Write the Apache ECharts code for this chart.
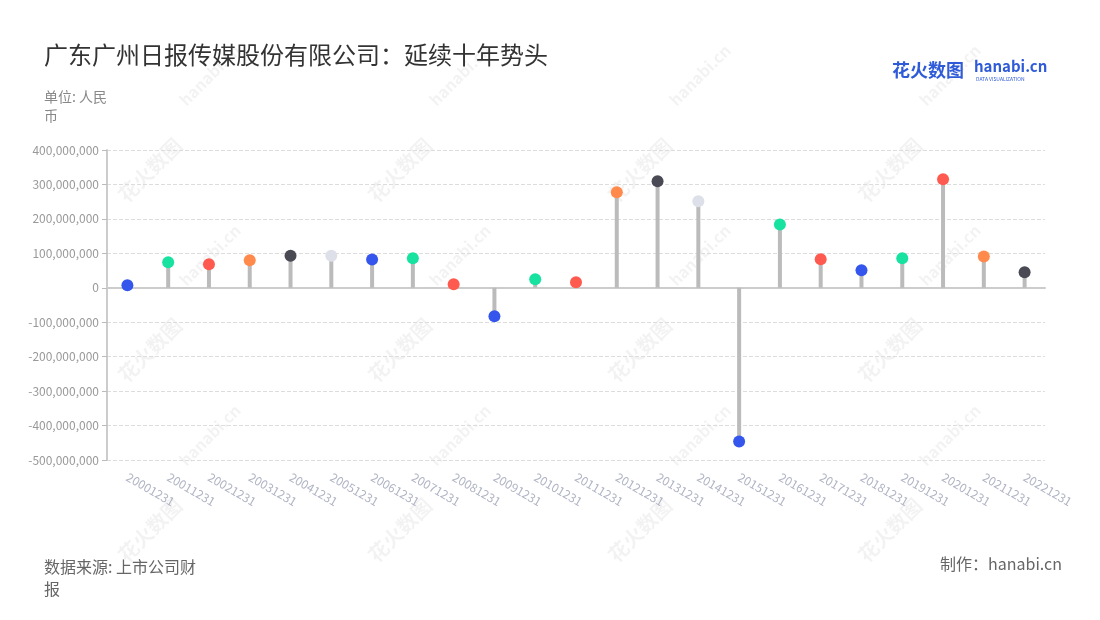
<!DOCTYPE html>
<html><head><meta charset="utf-8">
<script src="https://cdn.jsdelivr.net/npm/echarts@6/dist/echarts.min.js"></script>
<style>html,body{margin:0;padding:0;background:#fff}#c{width:1100px;height:620px}</style>
</head><body><div id="c"></div>
<script>
const categories = ['20001231','20011231','20021231','20031231','20041231','20051231','20061231','20071231','20081231','20091231','20101231','20111231','20121231','20131231','20141231','20151231','20161231','20171231','20181231','20191231','20201231','20211231','20221231'];
const values = [7000000,74000000,68000000,80000000,93000000,93000000,82000000,86000000,10000000,-83000000,25000000,16000000,277000000,309000000,251000000,-446000000,184000000,83000000,51000000,86000000,315000000,91000000,45000000];
const pointColors = ['#3556ec','#17e29f','#ff5a50','#ff8a4c','#4a4a55','#dde0e9','#3556ec','#17e29f','#ff5a50','#3556ec','#17e29f','#ff5a50','#ff8a4c','#4a4a55','#dde0e9','#3556ec','#17e29f','#ff5a50','#3556ec','#17e29f','#ff5a50','#ff8a4c','#4a4a55'];
const titleText = '广东广州日报传媒股份有限公司：延续十年势头';

const font = '"Noto Sans CJK SC","Noto Sans",sans-serif';
const chart = echarts.init(document.getElementById('c'));

const wm = [];
const wmPos = [[150,170],[400,170],[640,170],[890,170],[150,350],[400,350],[640,350],[890,350],[150,530],[400,530],[640,530],[890,530]];
wmPos.forEach(p => {
  wm.push({type:'text', x:p[0], y:p[1], rotation:Math.PI/4, silent:true, z:-1,
    style:{text:'花火数图', fill:'rgba(0,0,0,0.05)', font:'bold 20px ' + font, align:'center', verticalAlign:'middle'}});
  wm.push({type:'text', x:p[0]+60, y:p[1]-95, rotation:Math.PI/4, silent:true, z:-1,
    style:{text:'hanabi.cn', fill:'rgba(0,0,0,0.05)', font:'bold 16px ' + font, align:'center', verticalAlign:'middle'}});
});

chart.setOption({
  backgroundColor:'#fff',
  animation:false,
  title:{text:titleText, left:39, top:38, textStyle:{fontSize:24, fontWeight:'normal', color:'#333', fontFamily:font}},
  grid:{left:107, right:55, top:150, bottom:160, containLabel:false},
  xAxis:{type:'category', data:categories, boundaryGap:true,
    axisLine:{lineStyle:{color:'#ccc', width:2}},
    axisTick:{alignWithLabel:true, lineStyle:{color:'#bbb'}},
    axisLabel:{rotate:-30, color:'#b0b4c4', fontSize:12, fontFamily:font, margin:16, interval:0}},
  yAxis:{type:'value', min:-500000000, max:400000000, interval:100000000,
    axisLine:{show:true, lineStyle:{color:'#ccc', width:2}},
    axisTick:{show:true, lineStyle:{color:'#bbb'}},
    axisLabel:{color:'#999', fontSize:12, fontFamily:font, formatter:v => v.toLocaleString('en-US')},
    splitLine:{lineStyle:{color:'#ddd', type:'dashed'}}},
  series:[
    {type:'bar', data:values, barWidth:4, itemStyle:{color:'#bbbbbb'}, z:2},
    {type:'scatter', data:values.map((v,i)=>({value:v, itemStyle:{color:pointColors[i], opacity:1}})), symbolSize:12, z:3}
  ],
  graphic:[
    {type:'text', left:44, top:87, style:{text:'单位: 人民\n币', fill:'#888', font:'14px ' + font, lineHeight:19}},
    {type:'text', left:44, top:556, style:{text:'数据来源: 上市公司财\n报', fill:'#666', font:'16px ' + font, lineHeight:22}},
    {type:'text', right:38, top:556, style:{text:'制作：hanabi.cn', fill:'#666', font:'16px ' + font}},
    {type:'text', left:892, top:61, style:{text:'花火数图', fill:'#2f5bd8', font:'bold 18px ' + font}},
    {type:'text', left:974, top:59, style:{text:'hanabi.cn', fill:'#2f5bd8', font:'bold 15px ' + font}},
    {type:'text', left:976, top:77, style:{text:'DATA VISUALIZATION', fill:'#2f5bd8', font:'5px ' + font}},
    ...wm
  ]
});
</script></body></html>
